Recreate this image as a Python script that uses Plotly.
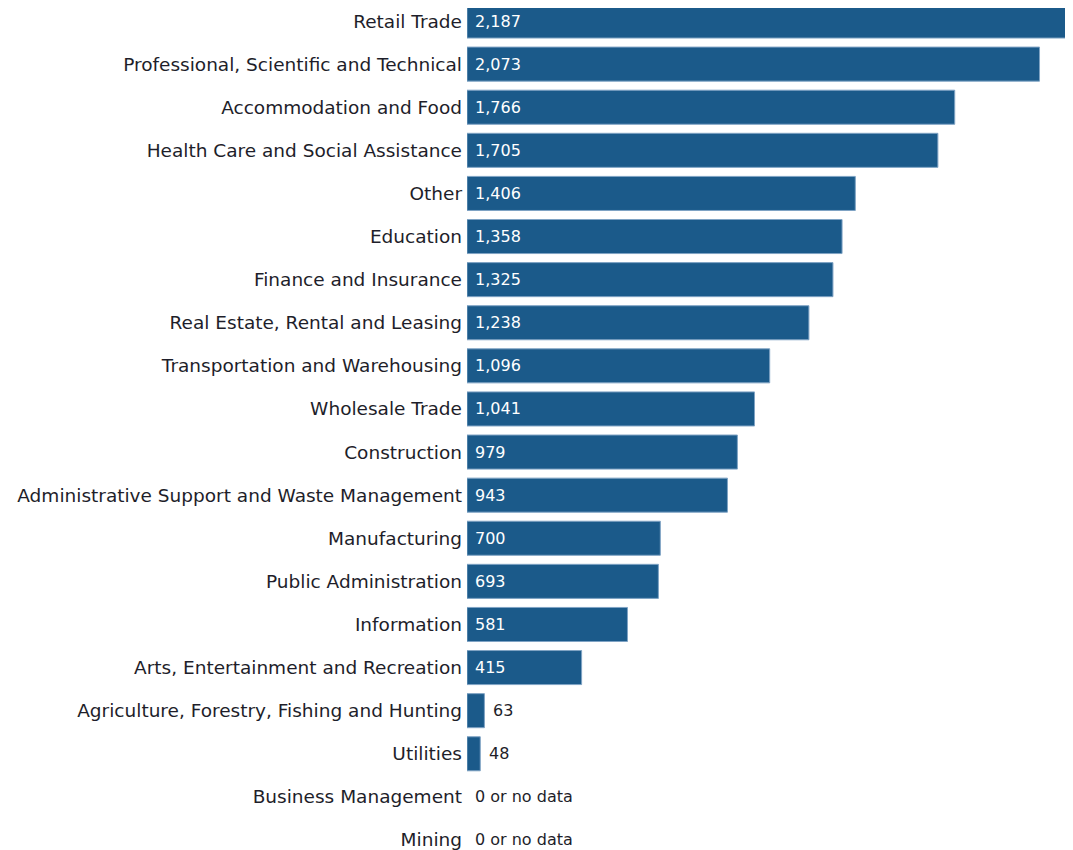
import plotly.graph_objects as go

categories = [
    "Retail Trade",
    "Professional, Scientific and Technical",
    "Accommodation and Food",
    "Health Care and Social Assistance",
    "Other",
    "Education",
    "Finance and Insurance",
    "Real Estate, Rental and Leasing",
    "Transportation and Warehousing",
    "Wholesale Trade",
    "Construction",
    "Administrative Support and Waste Management",
    "Manufacturing",
    "Public Administration",
    "Information",
    "Arts, Entertainment and Recreation",
    "Agriculture, Forestry, Fishing and Hunting",
    "Utilities",
    "Business Management",
    "Mining",
]
values = [2187, 2073, 1766, 1705, 1406, 1358, 1325, 1238, 1096, 1041,
          979, 943, 700, 693, 581, 415, 63, 48, 0, 0]

BAR_COLOR = "#1b5a8a"
TEXT_COLOR = "#1e1e2a"
FONT = "DejaVu Sans"

fig = go.Figure()
fig.add_trace(go.Bar(
    x=values,
    y=categories,
    orientation="h",
    marker=dict(color=BAR_COLOR,
                line=dict(color="#7fa3c4", width=[1 if v > 0 else 0 for v in values])),
    hoverinfo="x+y",
))

annotations = []
for cat, v in zip(categories, values):
    if v == 0:
        annotations.append(dict(x=0, y=cat, text="0 or no data", xanchor="left",
                                xshift=6, showarrow=False,
                                font=dict(family=FONT, size=16, color=TEXT_COLOR)))
    elif v < 200:
        annotations.append(dict(x=v, y=cat, text=f"{v:,}", xanchor="left",
                                xshift=7, showarrow=False,
                                font=dict(family=FONT, size=16, color=TEXT_COLOR)))
    else:
        annotations.append(dict(x=0, y=cat, text=f"{v:,}", xanchor="left",
                                xshift=6, showarrow=False,
                                font=dict(family=FONT, size=16, color="white")))

n = len(categories)
fig.update_layout(
    width=1073, height=850,
    margin=dict(l=459, r=10, t=0, b=0),
    paper_bgcolor="white", plot_bgcolor="white",
    bargap=0.21,
    showlegend=False,
    annotations=annotations,
    xaxis=dict(range=[0, max(values)], visible=False, fixedrange=True),
    yaxis=dict(
        type="category",
        categoryorder="array", categoryarray=categories,
        range=[19.418, -0.302],
        showgrid=False, zeroline=False, showline=False, ticks="",
        ticklabelstandoff=4,
        tickfont=dict(family=FONT, size=18.5, color=TEXT_COLOR),
    ),
)

fig.write_html("out.html")
